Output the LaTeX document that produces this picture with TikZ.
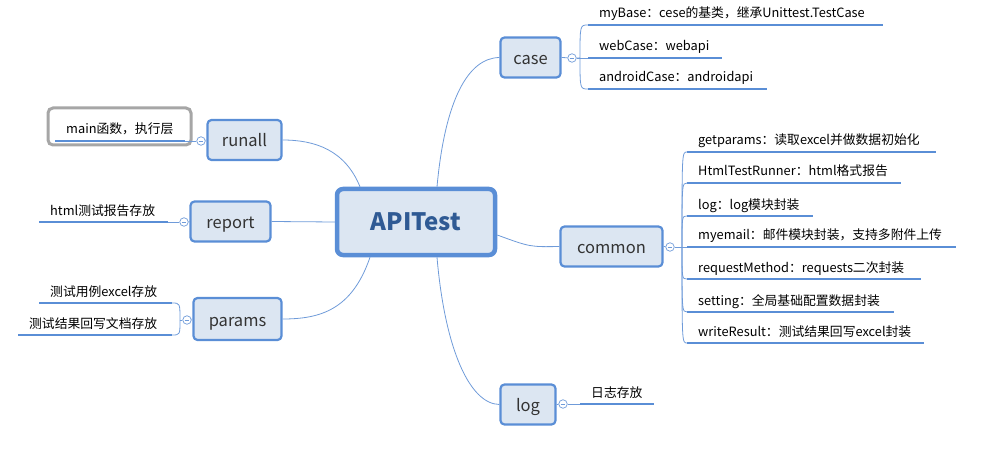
\documentclass[tikz,border=0pt]{standalone}
\usepackage{fontspec}
\setmainfont{Noto Sans CJK SC}
\usetikzlibrary{calc}
\definecolor{boxblue}{HTML}{5A8ED6}
\definecolor{boxfill}{HTML}{DCE6F2}
\definecolor{lineblue}{HTML}{6F9BD9}
\definecolor{titleblue}{HTML}{2F5A94}
\definecolor{graybox}{HTML}{A6A6A6}
\tikzset{
  branch/.style={draw=boxblue, line width=2.2pt, fill=boxfill, rounded corners=4pt,
    inner sep=0pt, text height=14pt, text depth=0pt, font=\fontsize{16.5}{18}\selectfont, text=black!80},
  root/.style={draw=boxblue, line width=4.5pt, fill=boxfill, rounded corners=6pt,
    inner sep=0pt, font=\fontsize{24}{28}\selectfont\bfseries, text=titleblue},
  leaftext/.style={inner sep=0pt, font=\fontsize{12.8}{14}\selectfont, text=black},
  uline/.style={draw=boxblue, line width=2.6pt},
  conn/.style={draw=lineblue, line width=0.8pt},
  knob/.style={circle, draw=lineblue, fill=white, line width=0.7pt, minimum size=8.5pt, inner sep=0pt,
    path picture={\draw[lineblue, line width=0.7pt] ([xshift=-2.3pt]path picture bounding box.center) -- ([xshift=2.3pt]path picture bounding box.center);}},
}
\newcommand\leafitem[5]{%
  \node[leaftext, anchor=base west] (#1) at (#2+11, #4-7) {#5};
  \coordinate (#1-l) at (#2,#4);
  \coordinate (#1-r) at (#3,#4);
  \draw[uline] (#1-l) -- (#1-r);
}
\begin{document}
\begin{tikzpicture}[x=1pt, y=-1pt]
\useasboundingbox (0,0) rectangle (986,468);

% root
\node[root, minimum width=158, minimum height=66] (api) at (416,222) {APITest};

% branches
\node[branch, minimum width=60, minimum height=40] (case) at (530.5,57.5) {case};
\node[branch, minimum width=102, minimum height=40] (common) at (611.5,246.5) {common};
\node[branch, minimum width=55, minimum height=40] (log) at (528,404.5) {log};
\node[branch, minimum width=74, minimum height=40] (runall) at (244.5,140) {runall};
\node[branch, minimum width=80, minimum height=40] (report) at (230.5,221.5) {report};
\node[branch, minimum width=88, minimum height=42] (params) at (237.5,319) {params};

% root connectors
\draw[conn] ([xshift=21pt]api.north) .. controls (445,100) and (468,58) .. (case.west);
\draw[conn] ([yshift=-13pt]api.east) .. controls (530,247) .. (common.west);
\draw[conn] ([xshift=21pt]api.south) .. controls (445,350) and (470,404) .. (log.west);
\draw[conn] ([xshift=-56pt]api.north) .. controls (345,150) and (315,140) .. (runall.east);
\draw[conn] (api.west) -- (report.east);
\draw[conn] ([xshift=-46pt]api.south) .. controls (352,310) and (320,319) .. (params.east);

% knobs
\node[knob] (kcase) at (572,58) {};
\node[knob] (kcommon) at (670,247) {};
\node[knob] (klog) at (563,404) {};
\node[knob] (krunall) at (201,141) {};
\node[knob] (kreport) at (184,222) {};
\node[knob] (kparams) at (187,320) {};
\draw[conn] (case.east) -- (kcase);
\draw[conn] (common.east) -- (kcommon);
\draw[conn] (log.east) -- (klog);
\draw[conn] (runall.west) -- (krunall);
\draw[conn] (report.west) -- (kreport);
\draw[conn] (params.west) -- (kparams);

% case leaves
\leafitem{c1}{588}{883}{25}{myBase：cese的基类，继承Unittest.TestCase}
\leafitem{c2}{588}{722}{58}{webCase：webapi}
\leafitem{c3}{588}{767}{89}{androidCase：androidapi}
\draw[conn] (kcase) -- (580,58) .. controls (580,25) .. (c1-l);
\draw[conn] (kcase) -- (c2-l);
\draw[conn] (580,58) .. controls (580,89) .. (c3-l);

% common leaves
\leafitem{m1}{687}{936}{152}{getparams：读取excel并做数据初始化}
\leafitem{m2}{687}{901}{183}{HtmlTestRunner：html格式报告}
\leafitem{m3}{687}{813}{216}{log：log模块封装}
\leafitem{m4}{687}{956}{247}{myemail：邮件模块封装，支持多附件上传}
\leafitem{m5}{687}{921}{279}{requestMethod：requests二次封装}
\leafitem{m6}{687}{894}{312}{setting：全局基础配置数据封装}
\leafitem{m7}{687}{924}{343}{writeResult：测试结果回写excel封装}
\coordinate (cb) at (682,247);
\draw[conn] (kcommon) -- (m4-l);
\foreach \n in {m1,m2,m3,m5,m6,m7}{
  \draw[conn] (cb) .. controls (cb |- \n-l) .. (\n-l);
}

% log leaf
\leafitem{g1}{580}{654}{404}{日志存放}
\draw[conn] (klog) -- (g1-l);

% runall leaf
\draw[graybox, line width=3pt, rounded corners=5pt] (48,108) rectangle (191,145);
\leafitem{r1}{55}{185}{141}{main函数，执行层}
\draw[conn] (krunall) -- (r1-r);

% report leaf
\leafitem{p1}{39}{168}{222}{html测试报告存放}
\draw[conn] (kreport) -- (p1-r);

% params leaves
\leafitem{q1}{39}{172}{303}{测试用例excel存放}
\leafitem{q2}{18}{172}{335}{测试结果回写文档存放}
\coordinate (pb) at (180,320);
\draw[conn] (kparams) -- (pb);
\draw[conn] (pb) .. controls (180,303) .. (q1-r);
\draw[conn] (pb) .. controls (180,335) .. (q2-r);
\end{tikzpicture}
\end{document}
